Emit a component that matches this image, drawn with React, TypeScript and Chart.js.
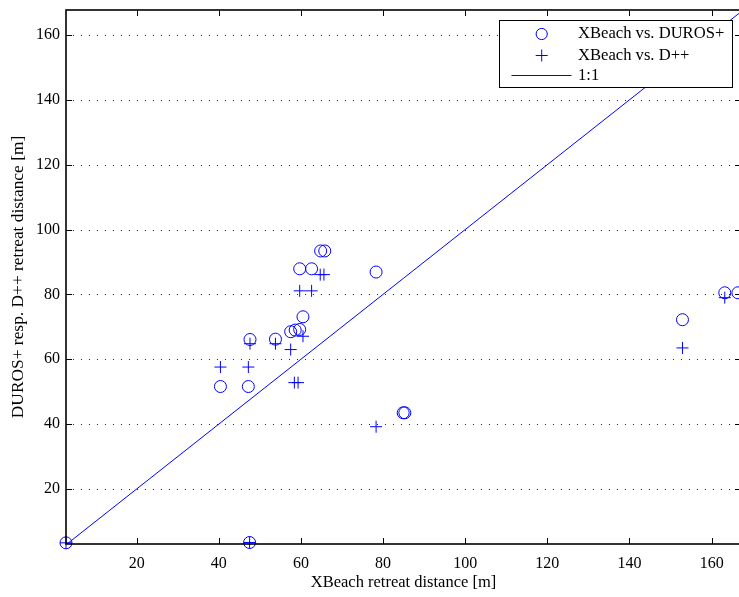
import React, { useEffect, useRef } from "react";
import { Chart, registerables } from "chart.js";

Chart.register(...registerables);

// ---- data ----
const X_TICKS = [20, 40, 60, 80, 100, 120, 140, 160];
const Y_TICKS = [20, 40, 60, 80, 100, 120, 140, 160];

const DUROS_X = [2.8, 40.4, 47.2, 47.6, 53.8, 57.5, 58.6, 59.7, 60.5, 59.7, 62.6, 64.8, 65.8, 78.3, 84.9, 85.3, 47.5, 152.9, 163.2, 166.4];
const DUROS_Y = [3.4, 51.6, 51.6, 66.1, 66.2, 68.5, 69.0, 69.2, 73.1, 87.9, 87.9, 93.4, 93.4, 86.9, 43.5, 43.5, 3.5, 72.2, 80.5, 80.5];

const DPP_X = [2.8, 40.4, 47.2, 47.6, 53.8, 57.5, 58.4, 59.3, 60.5, 59.7, 62.6, 64.7, 65.6, 78.3, 47.5, 152.9, 163.2];
const DPP_Y = [3.4, 57.6, 57.6, 64.8, 64.8, 63.0, 52.8, 52.8, 67.1, 81.1, 81.1, 86.1, 86.1, 39.2, 3.5, 63.5, 79.0];

const ONE_TO_ONE = [2.8, 167.2];

const SERIES_LABELS = ["XBeach vs. DUROS+", "XBeach vs. D++", "1:1"];
const X_TITLE = "XBeach retreat distance [m]";
const Y_TITLE = "DUROS+ resp. D++ retreat distance [m]";

const X_MIN = 2.8;
const X_MAX = 167.15;
const Y_MIN = 3.04;
const Y_MAX = 167.7;

const BLUE = "rgb(0,0,255)";
const FONT_FAMILY = "'Liberation Serif', 'Times New Roman', serif";

const boxPlugin = {
  id: "matlabBox",
  beforeDatasetsDraw(chart: any) {
    const { ctx, chartArea } = chart;
    const ys = chart.scales.y;
    ctx.save();
    ctx.strokeStyle = "#222";
    ctx.lineWidth = 1;
    ctx.setLineDash([1, 7]);
    Y_TICKS.forEach((v) => {
      const py = Math.round(ys.getPixelForValue(v)) + 0.5;
      ctx.beginPath();
      ctx.moveTo(chartArea.left + 7, py);
      ctx.lineTo(chartArea.right, py);
      ctx.stroke();
    });
    ctx.restore();
  },
  afterDraw(chart: any) {
    const { ctx, chartArea } = chart;
    const xs = chart.scales.x;
    const ys = chart.scales.y;
    const { left, right, top, bottom } = chartArea;
    ctx.save();
    ctx.strokeStyle = "#000";
    ctx.lineWidth = 1;
    const T = 6;
    X_TICKS.forEach((v) => {
      const px = Math.round(xs.getPixelForValue(v)) + 0.5;
      ctx.beginPath();
      ctx.moveTo(px, bottom);
      ctx.lineTo(px, bottom - T);
      ctx.moveTo(px, top);
      ctx.lineTo(px, top + T);
      ctx.stroke();
    });
    Y_TICKS.forEach((v) => {
      const py = Math.round(ys.getPixelForValue(v)) + 0.5;
      ctx.beginPath();
      ctx.moveTo(left, py);
      ctx.lineTo(left + T, py);
      ctx.moveTo(right, py);
      ctx.lineTo(right - T, py);
      ctx.stroke();
    });
    ctx.lineWidth = 1.6;
    ctx.strokeRect(left, top, right - left, bottom - top);

    // legend
    const lx = 499.5, ly = 20.5, lw = 233, lh = 67;
    ctx.fillStyle = "#fff";
    ctx.fillRect(lx, ly, lw, lh);
    ctx.lineWidth = 1;
    ctx.strokeStyle = "#000";
    ctx.strokeRect(lx, ly, lw, lh);
    const rows = [34, 55.5, 76];
    const symX = 541.7;
    ctx.strokeStyle = BLUE;
    ctx.lineWidth = 1;
    ctx.beginPath();
    ctx.arc(symX, rows[0], 5.6, 0, Math.PI * 2);
    ctx.stroke();
    ctx.beginPath();
    ctx.moveTo(symX - 6, rows[1]);
    ctx.lineTo(symX + 6, rows[1]);
    ctx.moveTo(symX, rows[1] - 6);
    ctx.lineTo(symX, rows[1] + 6);
    ctx.stroke();
    ctx.beginPath();
    ctx.moveTo(511.5, rows[2] - 0.5);
    ctx.lineTo(571.5, rows[2] - 0.5);
    ctx.stroke();
    ctx.fillStyle = "#000";
    ctx.font = `16.6px ${FONT_FAMILY}`;
    ctx.textBaseline = "middle";
    ctx.textAlign = "left";
    SERIES_LABELS.forEach((t, i) => ctx.fillText(t, 578, rows[i]));
    ctx.restore();
  },
};

export default function App() {
  const ref = useRef<HTMLCanvasElement | null>(null);
  useEffect(() => {
    if (!ref.current) return;
    const tickFont = { family: FONT_FAMILY, size: 16 };
    const chart = new Chart(ref.current, {
      type: "scatter",
      data: {
        datasets: [
          {
            label: SERIES_LABELS[0],
            data: DUROS_X.map((x, i) => ({ x, y: DUROS_Y[i] })),
            pointStyle: "circle",
            pointRadius: 6,
            pointBorderWidth: 1,
            borderColor: BLUE,
            backgroundColor: "rgba(0,0,0,0)",
            clip: false,
          },
          {
            label: SERIES_LABELS[1],
            data: DPP_X.map((x, i) => ({ x, y: DPP_Y[i] })),
            pointStyle: "cross",
            pointRadius: 6,
            pointBorderWidth: 1,
            borderColor: BLUE,
            backgroundColor: BLUE,
            clip: false,
          },
          {
            label: SERIES_LABELS[2],
            data: ONE_TO_ONE.map((v) => ({ x: v, y: v })),
            showLine: true,
            pointRadius: 0,
            borderColor: BLUE,
            borderWidth: 1,
          },
        ],
      } as any,
      options: {
        responsive: false,
        animation: false,
        devicePixelRatio: 1,
        layout: { padding: { top: 10, right: 19, left: 0, bottom: 0 } },
        plugins: { legend: { display: false }, tooltip: { enabled: false } },
        scales: {
          x: {
            type: "linear",
            min: X_MIN,
            max: X_MAX,
            afterBuildTicks: (s: any) => {
              s.ticks = X_TICKS.map((v) => ({ value: v }));
            },
            afterFit: (s: any) => {
              s.height = 53;
              s.paddingLeft = 0;
              s.paddingRight = 0;
            },
            grid: { display: false, drawTicks: false },
            border: { display: false },
            ticks: { font: tickFont, color: "#000", padding: 10, maxRotation: 0, autoSkip: false },
            title: { display: true, text: X_TITLE, font: { family: FONT_FAMILY, size: 16.5 }, color: "#000", padding: { top: 0, bottom: 4.4 } },
          },
          y: {
            type: "linear",
            min: Y_MIN,
            max: Y_MAX,
            afterBuildTicks: (s: any) => {
              s.ticks = Y_TICKS.map((v) => ({ value: v }));
            },
            afterFit: (s: any) => {
              s.width = 66;
              s.paddingTop = 0;
              s.paddingBottom = 0;
            },
            grid: { display: false, drawTicks: false },
            border: { display: false },
            ticks: { font: tickFont, color: "#000", padding: 6, autoSkip: false },
            title: { display: true, text: Y_TITLE, font: { family: FONT_FAMILY, size: 17.4 }, color: "#000", padding: { top: 7.9, bottom: 0 } },
          },
        },
      } as any,
      plugins: [boxPlugin],
    });
    return () => chart.destroy();
  }, []);
  return (
    <div style={{ position: "fixed", left: 0, top: 0, width: 739, height: 597, overflow: "hidden", background: "#fff" }}>
      <canvas ref={ref} width={760} height={597} style={{ display: "block" }} />
    </div>
  );
}
